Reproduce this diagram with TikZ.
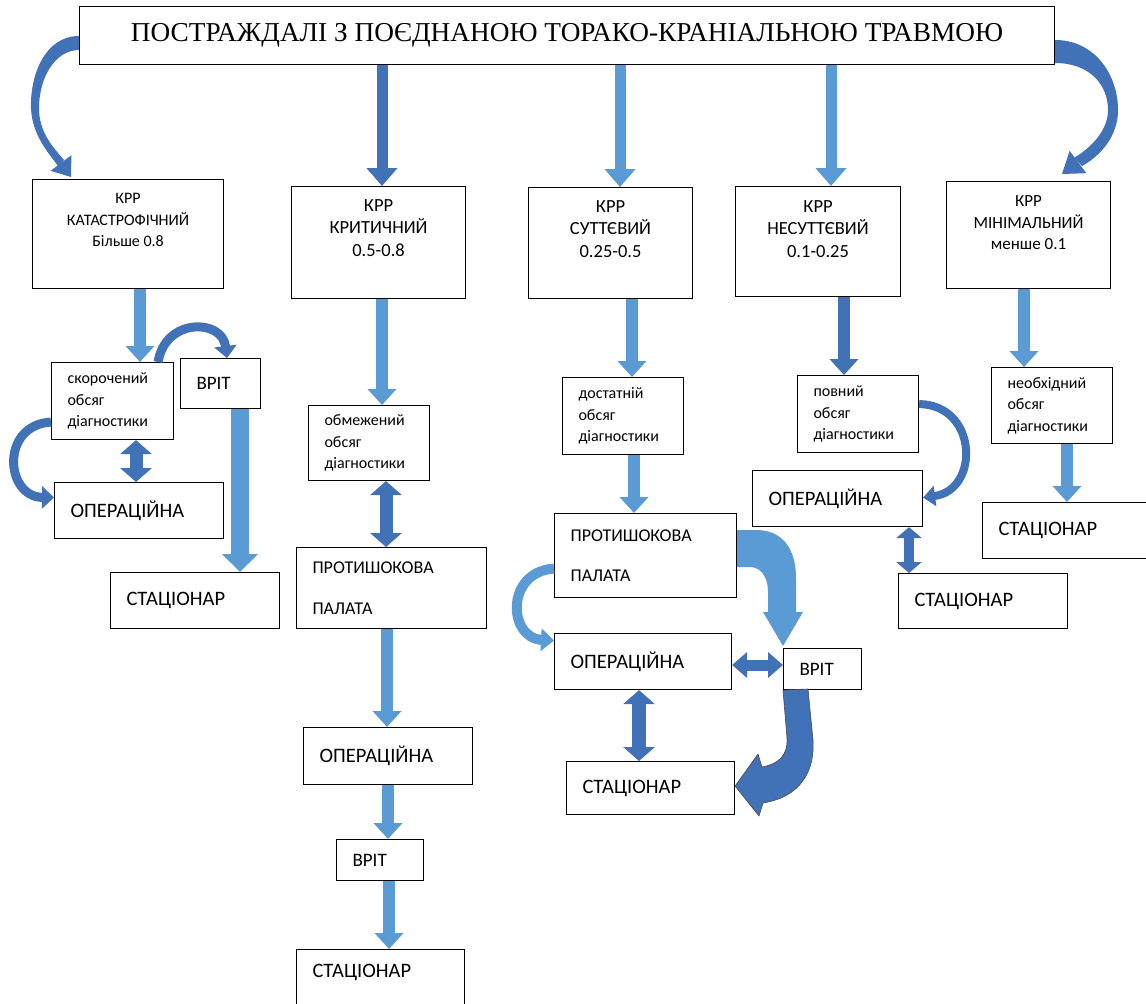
\documentclass[tikz,border=0pt]{standalone}
\usepackage{fontspec}
\setmainfont{Carlito}
\newfontfamily\headfont{Liberation Serif}
\usetikzlibrary{arrows.meta}
\definecolor{lightarr}{RGB}{91,155,213}
\definecolor{darkarr}{RGB}{65,113,182}

\begin{document}
\begin{tikzpicture}[x=1pt,y=-1pt,
		box/.style={draw,line width=1.1pt,anchor=north west,inner sep=0pt},
		tbox/.style={draw,line width=1.1pt,anchor=north west,align=left,inner xsep=16pt,inner ysep=0pt},
		krr/.style={align=center,font=\fontsize{18.5}{22.5}\selectfont},
		diag/.style={tbox,font=\fontsize{16}{21.5}\selectfont},
		big/.style={tbox,font=\fontsize{20.5}{24}\selectfont},
		lt/.style={lightarr,line width=12pt,-{Triangle[width=28pt,length=16pt]}},
		dk/.style={darkarr,line width=12pt,-{Triangle[width=28pt,length=16pt]}},
		dd/.style={darkarr,line width=13pt,{Triangle[width=31pt,length=14pt]}-{Triangle[width=31pt,length=14pt]}}]
		\useasboundingbox (0,0) rectangle (1146,1004);
		\fill[white] (0,0) rectangle (1146,1004);
		
		% title and the five classes
		\node[box,minimum width=975pt,minimum height=58pt,font=\headfont\fontsize{27.3}{30}\selectfont] (ttl) at (79,6) {ПОСТРАЖДАЛІ З ПОЄДНАНОЮ ТОРАКО-КРАНІАЛЬНОЮ ТРАВМОЮ};
		\node[box,minimum width=191pt,minimum height=109pt] (kat) at (32,179) {};
		\node[box,minimum width=174pt,minimum height=112pt] (krit) at (291,186) {};
		\node[box,minimum width=164pt,minimum height=111pt] (sut) at (528,187) {};
		\node[box,minimum width=165pt,minimum height=110pt] (nesut) at (735,186) {};
		\node[box,minimum width=164pt,minimum height=107pt] (mini) at (946,181) {};
		\node[krr,font=\fontsize{16}{21.5}\selectfont] (kat-t) at ([yshift=-41pt]kat.north) {КРР\\КАТАСТРОФІЧНИЙ\\Більше 0.8};
		\node[krr] (krit-t) at ([yshift=-42pt]krit.north) {КРР\\КРИТИЧНИЙ\\0.5-0.8};
		\node[krr] (sut-t) at ([yshift=-42pt]sut.north) {КРР\\СУТТЄВИЙ\\0.25-0.5};
		\node[krr] (nesut-t) at ([yshift=-43pt]nesut.north) {КРР\\НЕСУТТЄВИЙ\\0.1-0.25};
		\node[krr,font=\fontsize{17}{21.5}\selectfont] (mini-t) at ([yshift=-42pt]mini.north) {КРР\\МІНІМАЛЬНИЙ\\менше 0.1};
		
		% column 1
		\node[diag,text width=90pt,minimum height=77pt] (skor) at (51,362) {скорочений\\обсяг\\діагностики};
		\node[big,text width=48pt,minimum height=50pt,font=\fontsize{19}{23}\selectfont] (vr1) at (180,358) {ВРІТ};
		\node[big,text width=137pt,minimum height=56pt] (op1) at (54,482) {ОПЕРАЦІЙНА};
		\node[big,text width=137pt,minimum height=56pt] (st1) at (110,572) {СТАЦІОНАР};
		
		% column 2
		\node[diag,text width=89pt,minimum height=75pt] (obm) at (308,405) {обмежений\\обсяг\\діагностики};
		\node[tbox,text width=158pt,minimum height=81pt,font=\fontsize{18}{40.5}\selectfont] (pp2) at (296,547) {ПРОТИШОКОВА\\ПАЛАТА};
		\node[big,text width=137pt,minimum height=57pt] (op2) at (303,727) {ОПЕРАЦІЙНА};
		\node[big,text width=55pt,minimum height=41pt,font=\fontsize{19}{23}\selectfont] (vr2) at (336,839) {ВРІТ};
		\node[big,text width=136pt,minimum height=66pt,text depth=24pt] (st2) at (296,949) {СТАЦІОНАР};
		
		% column 3
		\node[diag,text width=89pt,minimum height=77pt] (dost) at (562,377) {достатній\\обсяг\\діагностики};
		\node[tbox,text width=150pt,minimum height=84pt,font=\fontsize{18}{40.5}\selectfont] (pp3) at (554,513) {ПРОТИШОКОВА\\ПАЛАТА};
		\node[big,text width=145pt,minimum height=56pt] (op3) at (554,633) {ОПЕРАЦІЙНА};
		\node[big,text width=46pt,minimum height=41pt,font=\fontsize{19}{23}\selectfont] (vr3) at (783,648) {ВРІТ};
		\node[big,text width=136pt,minimum height=53pt] (st3) at (566,761) {СТАЦІОНАР};
		
		% column 4 and 5
		\node[diag,text width=89pt,minimum height=77pt] (povn) at (797,375) {повний\\обсяг\\діагностики};
		\node[big,text width=138pt,minimum height=56pt] (op4) at (752,470) {ОПЕРАЦІЙНА};
		\node[big,text width=137pt,minimum height=55pt] (st4) at (898,573) {СТАЦІОНАР};
		\node[diag,text width=89pt,minimum height=76pt] (neob) at (991,367) {необхідний\\обсяг\\діагностики};
		\node[big,text width=138pt,minimum height=56pt] (st5) at (982,502) {СТАЦІОНАР};
		
		% arrows from the title
		\fill[darkarr] (ttl.west |- 0,36) .. controls (45,36) and (30,75) .. (31,108) .. controls (32,135) and (48,152) .. (58,166)
			-- (64,160) .. controls (52,146) and (39,132) .. (39,108) .. controls (39,78) and (55,50) .. (ttl.west |- 0,50) -- cycle;
		\fill[darkarr] (71.4,155.2) -- ([xshift=39pt,yshift=2pt]kat.north west) -- (50.6,170.8) -- cycle;
		\draw[dk,line width=11pt,-{Triangle[width=30pt,length=18pt]}] (382,0 |- ttl.south) -- (382,0 |- krit.north);
		\draw[lt,line width=11pt,-{Triangle[width=30pt,length=18pt]}] (620,0 |- ttl.south) -- (620,0 |- sut.north);
		\draw[lt,line width=11pt,-{Triangle[width=30pt,length=18pt]}] (831,0 |- ttl.south) -- (831,0 |- nesut.north);
		\fill[darkarr] (ttl.east |- 0,40) .. controls (1095,40) and (1118,75) .. (1118,110) .. controls (1118,135) and (1102,155) .. (1082,166)
			-- (1074,158) .. controls (1095,145) and (1108,128) .. (1108,110) .. controls (1108,85) and (1090,63) .. (ttl.east |- 0,63) -- cycle;
		\fill[darkarr] (1086.4,173.2) -- ([xshift=116pt,yshift=7pt]mini.north west) -- (1069.6,150.8) -- cycle;
		
		% column 1
		\draw[lt] (140,0 |- kat.south) -- (140,0 |- skor.north);
		\draw[dk,line width=9pt,-{Triangle[width=22pt,length=12pt]}] ([xshift=-16pt]skor.north east) .. controls (165,318) and (222,318) .. ([xshift=47pt]vr1.north west);
		\draw[dd] (136,0 |- skor.south) -- (136,0 |- op1.north);
		\draw[dk,line width=9pt,-{Triangle[width=22pt,length=12pt]}] ([yshift=-21pt]skor.west) .. controls (0,425) and (5,497) .. ([yshift=13pt]op1.west);
		\draw[lt,line width=18pt,-{Triangle[width=35pt,length=18pt]}] (240,0 |- vr1.south) -- (240,0 |- st1.north);
		
		% column 2
		\draw[lt] (382,0 |- krit.south) -- (382,0 |- obm.north);
		\draw[dd] (386,0 |- obm.south) -- (386,0 |- pp2.north);
		\draw[lt] (387,0 |- pp2.south) -- (387,0 |- op2.north);
		\draw[lt] (388,0 |- op2.south) -- (388,0 |- vr2.north);
		\draw[lt] (389,0 |- vr2.south) -- (389,0 |- st2.north);
		
		% column 3
		\draw[lt] (632,0 |- sut.south) -- (632,0 |- dost.north);
		\draw[lt] (634,0 |- dost.south) -- (634,0 |- pp3.north);
		\draw[lt,line width=10pt,-{Triangle[width=22pt,length=13pt]}] ([yshift=-13pt]pp3.west) .. controls (505,572) and (508,638) .. ([yshift=21pt]op3.west);
		\fill[lightarr] (pp3.east |- 0,530) -- (756,530) .. controls (782,530) and (796,548) .. (796,578) -- (796,612) -- (803,612) -- ([yshift=2pt]vr3.north west) -- (763,612) -- (768,612) -- (768,592) .. controls (768,576) and (760,567) .. (750,567) -- (pp3.east |- 0,567) -- cycle;
		\draw[dd,line width=11pt,{Triangle[width=25pt,length=15pt]}-{Triangle[width=25pt,length=15pt]}] (op3.east |- 0,665) -- (vr3.west |- 0,665);
		\draw[dd,line width=14pt] (639,0 |- op3.south) -- (639,0 |- st3.north);
		\filldraw[fill=darkarr,draw=black!70,line width=0.6pt] (vr3.south west) -- (787,738) .. controls (788,756) and (778,764) .. (762,767) -- (758,754) -- ([yshift=2pt]st3.east) -- (759,816) -- (763,803) .. controls (800,797) and (815,772) .. (813,740) -- (808,689) -- cycle;
		
		% column 4 and 5
		\draw[dk] (844,0 |- nesut.south) -- (844,0 |- povn.north);
		\draw[dk,line width=8pt,-{Triangle[width=20pt,length=12pt]}] ([yshift=10pt]povn.east) .. controls (978,405) and (980,490) .. ([yshift=1pt]op4.east);
		\draw[dd,line width=10pt,{Triangle[width=25pt,length=11pt]}-{Triangle[width=25pt,length=11pt]}] (909,0 |- op4.south) -- (909,0 |- st4.north);
		\draw[lt] (1024,0 |- mini.south) -- (1024,0 |- neob.north);
		\draw[lt] (1067,0 |- neob.south) -- (1067,0 |- st5.north);
	\end{tikzpicture}
\end{document}
